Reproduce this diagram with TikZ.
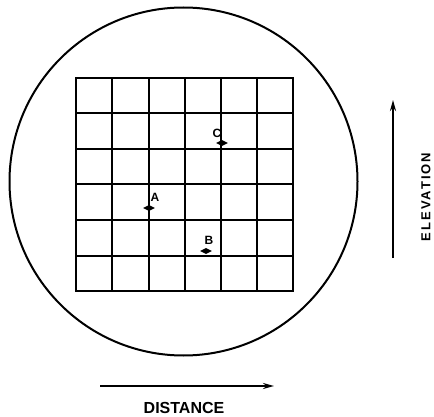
\documentclass[tikz,border=0pt]{standalone}
\usepackage{fontspec}
\setmainfont{Liberation Sans}
\newfontfamily\lblfont[LetterSpace=15,BoldFont={Liberation Sans Bold}]{Liberation Sans}
\usetikzlibrary{shapes.geometric,arrows.meta}
\begin{document}
\begin{tikzpicture}[x=1pt,y=-1pt,
  gridline/.style={line width=2.2pt, line cap=rect},
  marker/.style={shape=diamond, fill=black, draw=none, inner sep=0pt, minimum width=12pt, minimum height=6pt, aspect=2},
  ptlabel/.style={font=\bfseries\fontsize{12}{14}\selectfont, inner sep=0pt},
  axisarrow/.style={line width=2pt, -{Stealth[length=11pt,width=6pt]}},
  axislabel/.style={font=\lblfont\bfseries\fontsize{13}{15}\selectfont, inner sep=0pt}]
\useasboundingbox (0,0) rectangle (434,417);
% scope circle
\draw[line width=2pt] (183.5,181.5) circle[radius=174];
% grid
\foreach \x in {76,112,149,185,221,257,293} {
  \draw[gridline] (\x,78) -- (\x,291);
}
\foreach \y in {78,113,149,184,220,256,291} {
  \draw[gridline] (76,\y) -- (293,\y);
}
% targets
\node[marker] (mC) at (222,143) {};
\node[ptlabel] (lC) at (217,133) {C};
\node[marker] (mA) at (149,208) {};
\node[ptlabel] (lA) at (155,197) {A};
\node[marker] (mB) at (206,251) {};
\node[ptlabel] (lB) at (209,240) {B};
% axes
\coordinate (d0) at (100,386);
\coordinate (d1) at (274,386);
\draw[axisarrow] (d0) -- (d1);
\node[inner sep=0pt, font=\bfseries\fontsize{16}{18}\selectfont] (dist) at (184,408) {DISTANCE};
\coordinate (e0) at (393,258);
\coordinate (e1) at (393,100);
\draw[axisarrow] (e0) -- (e1);
\node[axislabel, rotate=90] (elev) at (426,197) {ELEVATION};
\end{tikzpicture}
\end{document}
